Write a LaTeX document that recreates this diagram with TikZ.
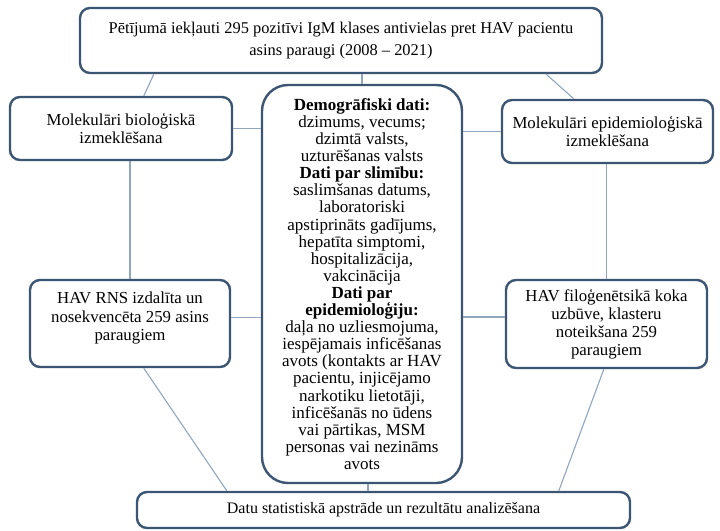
\documentclass[tikz,border=0pt]{standalone}
\usepackage{fontspec}
\setmainfont{Liberation Serif}
\usetikzlibrary{calc}
\definecolor{boxline}{HTML}{3B5573}
\definecolor{conline}{HTML}{8FA6BE}
\tikzset{
  box/.style={draw=boxline, line width=2.4pt, rounded corners=10pt, fill=white, align=center, inner sep=2pt, font=\fontsize{16.8}{18.3}\selectfont},
  conn/.style={draw=conline, line width=1.1pt},
}
\begin{document}
\begin{tikzpicture}[x=1pt,y=1pt]
\useasboundingbox (0,0) rectangle (720,-530);
\node[box, minimum width=522pt, minimum height=65pt, font=\fontsize{16.4}{22}\selectfont] (top) at (341,-40.5) {Pētījumā iekļauti 295 pozitīvi IgM klases antivielas pret HAV pacientu\\asins paraugi (2008 -- 2021)};
\node[box, minimum width=222pt, minimum height=63pt] (lb) at (121,-128.5) {Molekulāri bioloģiskā\\izmeklēšana};
\node[box, minimum width=211pt, minimum height=63pt] (rb) at (607.5,-131.5) {Molekulāri epidemioloģiskā\\izmeklēšana};
\node[box, rounded corners=26pt, minimum width=200pt, minimum height=398pt, font=\fontsize{17}{17.1}\selectfont] (center) at (362,-284) {\textbf{Demogrāfiski dati:}\\dzimums, vecums;\\dzimtā valsts,\\uzturēšanas valsts\\\textbf{Dati par slimību:}\\saslimšanas datums,\\laboratoriski\\apstiprināts gadījums,\\hepatīta simptomi,\\hospitalizācija,\\vakcinācija\\\textbf{Dati par}\\\textbf{epidemioloģiju:}\\daļa no uzliesmojuma,\\iespējamais inficēšanas\\avots (kontakts ar HAV\\pacientu, injicējamo\\narkotiku lietotāji,\\inficēšanās no ūdens\\vai pārtikas, MSM\\personas vai nezināms\\avots};
\node[box, minimum width=200pt, minimum height=87pt] (lrn) at (130,-323.5) {};
\node[box, draw=none, fill=none, anchor=center] (lrnt) at (130,-318) {HAV RNS izdalīta un\\nosekvencēta 259 asins\\paraugiem};
\node[box, minimum width=201pt, minimum height=88pt, font=\fontsize{16.8}{18}\selectfont] (rrn) at (606.5,-324) {HAV filoģenētsikā koka\\uzbūve, klasteru\\noteikšana 259\\paraugiem};
\node[box, minimum width=493pt, minimum height=36pt, font=\fontsize{16}{18}\selectfont] (bot) at (383.5,-510) {Datu statistiskā apstrāde un rezultātu analizēšana};
% connectors
\draw[conn] ([xshift=75pt]top.south west) -- ([xshift=135pt]lb.north west);
\draw[conn] (center.north) -- (center.north |- top.south);
\draw[conn] ([xshift=-57pt]top.south east) -- ([xshift=73pt]rb.north west);
\draw[conn] (lb.east) -- (lb.east -| center.west);
\draw[conn] (rb.west) -- (rb.west -| center.east);
\draw[conn] (lrn.north) -- (lrn.north |- lb.south);
\draw[conn] (rrn.north) -- (rrn.north |- rb.south);
\draw[conn] ([yshift=6pt]lrn.east) -- ([yshift=6pt]lrn.east -| center.west);
\draw[conn] ([yshift=7pt]rrn.west) -- ([yshift=7pt]rrn.west -| center.east);
\draw[conn] ([xshift=115pt]lrn.south west) -- ([xshift=91pt]bot.north west);
\draw[conn] ([xshift=99pt]rrn.south west) -- ([xshift=423pt]bot.north west);
\draw[conn] ([xshift=6pt]center.south) -- ([xshift=6pt]center.south |- bot.north);
\end{tikzpicture}
\end{document}
